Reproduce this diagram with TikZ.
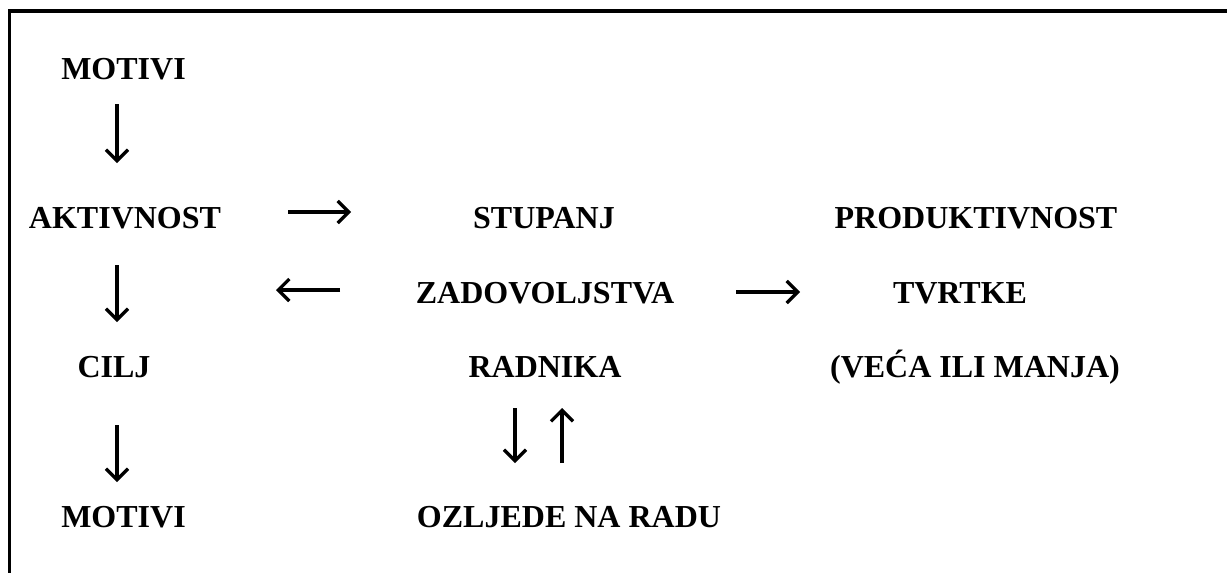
\documentclass[tikz,border=0pt]{standalone}
\usepackage{fontspec}
\setmainfont{Liberation Serif}
\usetikzlibrary{arrows.meta}
\tikzset{
  lbl/.style={font=\fontsize{32}{38}\selectfont\bfseries, anchor=base, inner sep=0pt},
  arr/.style={line width=3.3pt, -{Straight Barb[length=11pt,width=22pt]}},
  frame/.style={line width=3.2pt}
}
\begin{document}
\begin{tikzpicture}[x=1pt,y=-1pt]
  \useasboundingbox (0,0) rectangle (1227,573);
  % open frame: top and left edges only
  \coordinate (fTop) at (1227,11);
  \coordinate (fCorner) at (9.5,11);
  \coordinate (fBottom) at (9.5,573);
  \draw[frame] (fTop) -- (fCorner) -- (fBottom);

  % left column
  \node[lbl] (motiviA) at (123.5,79) {MOTIVI};
  \node[lbl] (aktiv)   at (125,228) {AKTIVNOST};
  \node[lbl] (cilj)    at (114,377) {CILJ};
  \node[lbl] (motiviB) at (123.5,527) {MOTIVI};

  % middle column
  \node[lbl] (stup)  at (544,228) {STUPANJ};
  \node[lbl] (zadov) at (545,303) {ZADOVOLJSTVA};
  \node[lbl] (radn)  at (545,377) {RADNIKA};
  \node[lbl] (ozlj)  at (569,527) {OZLJEDE NA RADU};

  % right column
  \node[lbl] (prod)  at (976,228) {PRODUKTIVNOST};
  \node[lbl] (tvrt)  at (960,303) {TVRTKE};
  \node[lbl] (vec)   at (975,377) {(VEĆA ILI MANJA)};

  % arrow end points
  \coordinate (d1s) at (117,104);  \coordinate (d1e) at (117,163);
  \coordinate (d2s) at (117,265);  \coordinate (d2e) at (117,322);
  \coordinate (d3s) at (117,425);  \coordinate (d3e) at (117,482);
  \coordinate (r1s) at (288,212);  \coordinate (r1e) at (351,212);
  \coordinate (l1s) at (340,290);  \coordinate (l1e) at (276,290);
  \coordinate (r2s) at (736,292);  \coordinate (r2e) at (800,292);
  \coordinate (dns) at (515,408);  \coordinate (dne) at (515,463);
  \coordinate (ups) at (562,463);  \coordinate (upe) at (562,408);

  \draw[arr] (d1s) -- (d1e);
  \draw[arr] (d2s) -- (d2e);
  \draw[arr] (d3s) -- (d3e);
  \draw[arr] (r1s) -- (r1e);
  \draw[arr] (l1s) -- (l1e);
  \draw[arr] (r2s) -- (r2e);
  \draw[arr] (dns) -- (dne);
  \draw[arr] (ups) -- (upe);
\end{tikzpicture}
\end{document}
